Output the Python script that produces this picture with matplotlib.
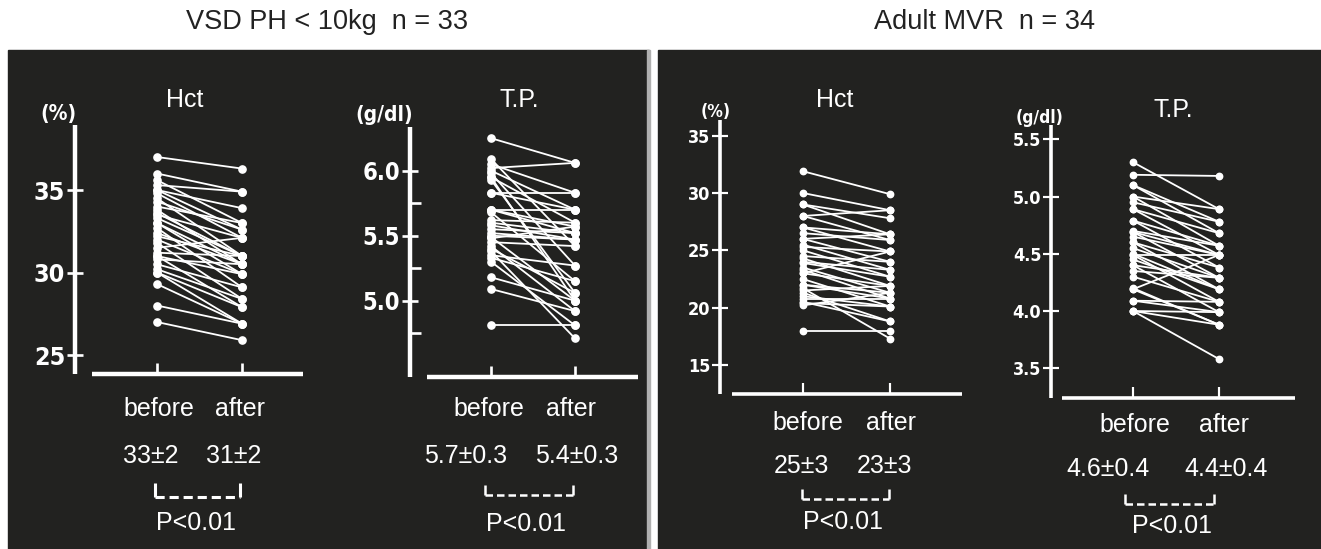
import matplotlib
matplotlib.use('Agg')
import matplotlib.pyplot as plt
from matplotlib.patches import Rectangle

W, H = 1321, 549
BG = '#222220'
LABEL_FONT = ['Liberation Sans', 'DejaVu Sans']
TICK_FONT = ['DejaVu Sans']

# VSD PH < 10kg, n = 33
vsd_hct_before = [37.0, 36.0, 35.6, 35.3, 35.0, 35.0, 34.8, 34.5, 34.3, 34.0, 33.8,
                  33.5, 33.3, 33.0, 33.0, 32.7, 32.4, 32.2, 32.0, 31.8, 31.5, 31.2,
                  31.0, 31.0, 30.8, 30.5, 30.2, 30.0, 30.0, 29.3, 28.0, 27.0, 33.6]
vsd_hct_after = [36.3, 34.9, 33.0, 34.9, 32.6, 33.9, 32.1, 31.0, 32.6, 33.0, 30.5,
                 32.1, 31.0, 29.9, 30.5, 29.1, 30.5, 31.0, 29.9, 28.4, 32.1, 31.0,
                 27.9, 29.9, 30.5, 29.1, 28.4, 27.9, 26.9, 26.9, 26.9, 25.9, 31.0]
vsd_tp_before = [6.25, 6.09, 6.05, 6.02, 6.00, 5.98, 5.95, 5.93, 5.83, 5.83, 5.70,
                 5.70, 5.68, 5.62, 5.60, 5.58, 5.55, 5.52, 5.50, 5.49, 5.48, 5.45,
                 5.42, 5.40, 5.38, 5.35, 5.33, 5.30, 5.18, 5.09, 4.81, 5.70, 5.95]
vsd_tp_after = [6.06, 5.42, 5.83, 6.06, 5.70, 5.27, 5.60, 5.06, 5.83, 5.70, 5.70,
                5.57, 5.15, 5.60, 5.52, 5.47, 5.52, 5.47, 5.47, 5.00, 5.57, 5.42,
                4.92, 5.06, 4.71, 5.27, 5.15, 4.81, 5.00, 4.92, 4.81, 5.52, 5.00]

# Adult MVR, n = 34
mvr_hct_before = [31.9, 30.0, 29.0, 29.0, 28.0, 28.0, 27.0, 27.0, 26.5, 26.0, 26.0,
                  25.5, 25.3, 25.0, 24.5, 24.3, 24.0, 23.9, 23.5, 23.3, 23.0, 23.0,
                  22.5, 22.0, 22.0, 21.7, 21.5, 21.3, 21.0, 20.8, 20.5, 20.4, 20.2, 18.0]
mvr_hct_after = [29.9, 28.5, 27.8, 26.4, 28.5, 25.9, 26.4, 24.9, 25.9, 24.0, 26.4,
                 23.3, 24.9, 22.7, 24.0, 21.9, 23.3, 22.7, 21.3, 20.8, 24.9, 21.9,
                 20.1, 21.3, 20.8, 17.3, 21.9, 18.8, 20.1, 20.8, 18.8, 20.1, 21.3, 18.0]
mvr_tp_before = [5.30, 5.19, 5.10, 5.10, 5.00, 5.00, 4.95, 4.89, 4.89, 4.79, 4.79,
                 4.69, 4.69, 4.65, 4.60, 4.60, 4.55, 4.49, 4.49, 4.45, 4.40, 4.40,
                 4.35, 4.30, 4.19, 4.19, 4.09, 4.09, 4.00, 4.00, 4.00, 4.50, 4.20, 4.70]
mvr_tp_after = [4.89, 5.18, 4.78, 4.68, 4.89, 4.57, 4.78, 4.68, 4.49, 4.57, 4.38,
                4.49, 4.29, 4.49, 4.38, 4.19, 4.29, 4.49, 4.08, 4.19, 4.29, 3.99,
                4.29, 4.08, 4.49, 3.88, 3.99, 4.08, 3.58, 3.88, 3.99, 4.19, 3.88, 4.57]

# summary rows printed under each panel (mean, sd)
summary = {
    'vsd_hct': ('33±2', '31±2'),
    'vsd_tp': ('5.7±0.3', '5.4±0.3'),
    'mvr_hct': ('25±3', '23±3'),
    'mvr_tp': ('4.6±0.4', '4.4±0.4'),
}
p_text = 'P<0.01'

fig = plt.figure(figsize=(W / 100, H / 100), dpi=100)
fig.patch.set_facecolor('white')


def px_axes(x0, y0, x1, y1, z):
    return fig.add_axes([x0 / W, 1 - y1 / H, (x1 - x0) / W, (y1 - y0) / H], zorder=z)


# dark photo panels
bg = px_axes(0, 0, W, H, 0)
bg.set_xlim(0, W)
bg.set_ylim(H, 0)
bg.axis('off')
bg.add_patch(Rectangle((8, 50), 641, 499, color=BG))
bg.add_patch(Rectangle((647, 50), 3, 499, color='#b0b0b0'))
bg.add_patch(Rectangle((658, 50), 663, 499, color=BG))


def slope_panel(yx, top, xstart, xend, ybot, bx, axp, ylim, before, after,
                ticks, fmt, minor=(), lw=3.0, ms=5.0, tick_fs=15):
    ax = px_axes(yx, top, xend, ybot, 1)
    ax.set_facecolor('none')
    unit = axp - bx
    ax.set_xlim((yx - bx) / unit, (xend - bx) / unit)
    ax.set_ylim(*ylim)
    for b, a in zip(before, after):
        ax.plot([0, 1], [b, a], color='white', lw=1.3, marker='o', ms=ms,
                mec='white', mfc='white', clip_on=False, zorder=3)
    for s in ('top', 'right'):
        ax.spines[s].set_visible(False)
    for s in ('left', 'bottom'):
        ax.spines[s].set_color('white')
        ax.spines[s].set_linewidth(lw)
        ax.spines[s].set_capstyle('butt')
    ax.spines['bottom'].set_bounds((xstart - bx) / unit, (xend - bx) / unit)
    ax.set_xticks([0, 1])
    ax.tick_params(axis='x', direction='in', length=8, width=lw * 0.6,
                   colors='white', labelbottom=False)
    ax.set_yticks(ticks)
    ax.set_yticklabels([fmt.format(t) for t in ticks], fontfamily=TICK_FONT,
                       fontweight='bold', fontstretch='condensed',
                       fontsize=tick_fs, color='white')
    ax.tick_params(axis='y', direction='inout', length=12, width=lw * 0.6,
                   colors='white', pad=1)
    if len(minor):
        ax.set_yticks(minor, minor=True)
        ax.tick_params(axis='y', which='minor', direction='in', length=8,
                       width=lw * 0.6, colors='white')
    return ax


slope_panel(75, 125, 92, 303, 374, 157, 242, (23.85, 38.94),
            vsd_hct_before, vsd_hct_after, [25, 30, 35], '{:.0f}',
            lw=3.2, ms=5.2, tick_fs=18)
slope_panel(410, 127, 427, 638, 377, 491, 575, (4.413, 6.336),
            vsd_tp_before, vsd_tp_after, [5.0, 5.5, 6.0], '{:.1f}',
            minor=[4.75, 5.25, 5.75], lw=3.2, ms=5.2, tick_fs=17)
slope_panel(720, 120, 732, 962, 394, 803, 890, (12.47, 36.37),
            mvr_hct_before, mvr_hct_after, [15, 20, 25, 30, 35], '{:.0f}',
            lw=2.6, ms=4.6, tick_fs=13)
slope_panel(1051, 125, 1062, 1295, 398, 1133, 1219, (3.24, 5.625),
            mvr_tp_before, mvr_tp_after, [3.5, 4.0, 4.5, 5.0, 5.5], '{:.1f}',
            lw=2.6, ms=4.6, tick_fs=13)

# annotation layer in pixel coordinates
ov = px_axes(0, 0, W, H, 2)
ov.set_xlim(0, W)
ov.set_ylim(H, 0)
ov.axis('off')
ov.set_facecolor('none')


def label(x, y, s, size=18, color='white', weight='normal', family=LABEL_FONT,
          stretch='normal'):
    ov.text(x, y, s, ha='center', va='center', fontsize=size, color=color,
            fontweight=weight, fontfamily=family, fontstretch=stretch)


def bracket(x0, x1, y0, y1, lw=2.0):
    ov.plot([x0, x0], [y0, y1], color='white', lw=lw, solid_capstyle='butt')
    ov.plot([x1, x1], [y0, y1], color='white', lw=lw, solid_capstyle='butt')
    ov.plot([x0, x1], [y1, y1], color='white', lw=lw, ls=(0, (3, 1.6)))


label(327, 22, 'VSD PH < 10kg  n = 33', size=19.5, color='#222222')
label(985, 22, 'Adult MVR  n = 34', size=19.5, color='#222222')

# VSD Hct
label(58, 114, '(%)', size=15, weight='bold', family=TICK_FONT, stretch='condensed')
label(185, 100, 'Hct')
label(159, 409, 'before')
label(240, 409, 'after')
label(151, 456, summary['vsd_hct'][0])
label(234, 456, summary['vsd_hct'][1])
bracket(155, 240, 483, 497, lw=2.2)
label(196, 523, p_text)

# VSD T.P.
label(384, 115, '(g/dl)', size=15, weight='bold', family=TICK_FONT, stretch='condensed')
label(519, 100, 'T.P.')
label(489, 409, 'before')
label(571, 409, 'after')
label(466, 456, summary['vsd_tp'][0])
label(577, 456, summary['vsd_tp'][1])
bracket(485, 573, 485, 495, lw=1.8)
label(526, 524, p_text)

# MVR Hct
label(716, 112, '(%)', size=12.5, weight='bold', family=TICK_FONT, stretch='condensed')
label(835, 100, 'Hct')
label(808, 423, 'before')
label(891, 423, 'after')
label(801, 466, summary['mvr_hct'][0])
label(885, 466, summary['mvr_hct'][1])
bracket(802, 889, 489, 499, lw=1.8)
label(843, 522, p_text)

# MVR T.P.
label(1040, 118, '(g/dl)', size=12.5, weight='bold', family=TICK_FONT, stretch='condensed')
label(1173, 110, 'T.P.')
label(1135, 425, 'before')
label(1224, 425, 'after')
label(1108, 469, summary['mvr_tp'][0])
label(1226, 469, summary['mvr_tp'][1])
bracket(1125, 1214, 494, 504, lw=1.8)
label(1172, 526, p_text)

fig.savefig('out.png', dpi=100, facecolor='white')
